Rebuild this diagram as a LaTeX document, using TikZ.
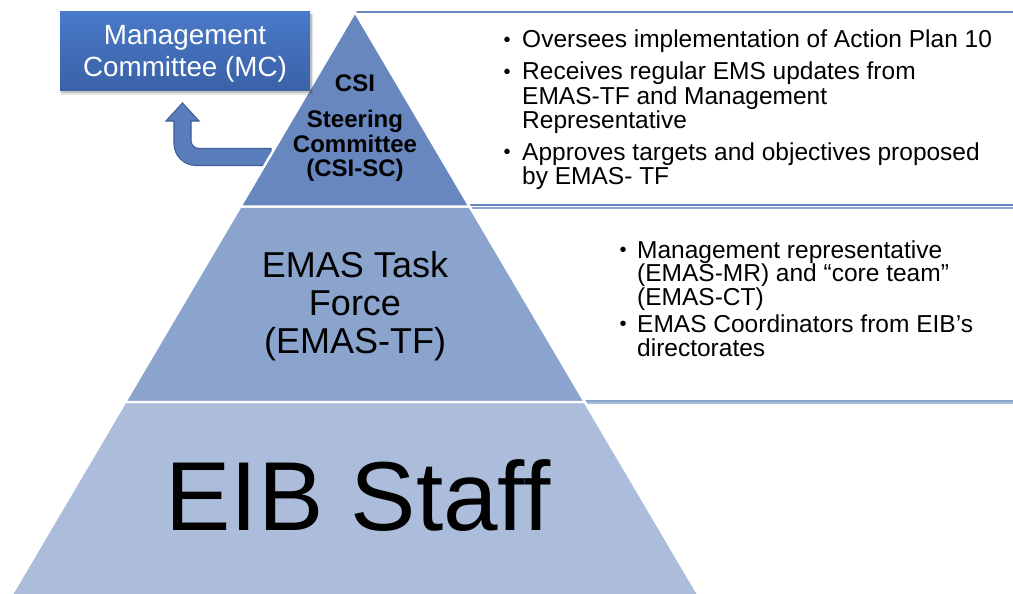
\documentclass[tikz,border=0pt]{standalone}
\usepackage{fontspec}
\setmainfont{Liberation Sans}
\definecolor{tierA}{HTML}{6887BF}
\definecolor{tierB}{HTML}{8AA4CE}
\definecolor{tierC}{HTML}{ABBDDB}
\definecolor{arrowfill}{HTML}{5A7DBC}
\definecolor{arrowline}{HTML}{3E5E98}
\definecolor{mctop}{HTML}{4A79C9}
\definecolor{mcbot}{HTML}{3A62A6}
\begin{document}
\begin{tikzpicture}[x=1pt,y=-1pt,
  tier/.style={draw=white, line width=2.4pt},
  panelline/.style={line width=2pt},
  mct/.style={anchor=base, inner sep=0pt, text=white, font=\fontsize{27.8}{30}\selectfont},
  csit/.style={anchor=base, inner sep=0pt, font=\fontsize{24}{26}\selectfont\bfseries},
  tft/.style={anchor=base, inner sep=0pt, font=\fontsize{36}{38}\selectfont},
  bl/.style={anchor=base west, inner sep=0pt, font=\fontsize{24.5}{25}\selectfont},
  bul/.style={anchor=base, inner sep=0pt, font=\fontsize{20}{21}\selectfont}]
\useasboundingbox (0,0) rectangle (1013,594);
\fill[white] (0,0) rectangle (1013,594);

% panel lines
\draw[panelline, tierA, line width=2.5pt] (355,12) -- (1013,12);
\draw[panelline, tierA] (469,205.3) -- (1013,205.3);
\draw[panelline, tierB] (470,207.5) -- (1013,207.5);
\draw[panelline, tierB] (584,401) -- (1013,401);
\draw[panelline, tierC] (586,403.3) -- (1013,403.3);

% U-turn arrow
\filldraw[fill=arrowfill, draw=arrowline, line width=1.1pt]
  (191,121) -- (191,140.5) .. controls (191,144.9) and (194.6,148.5) .. (199,148.5)
  -- (271,148.5) -- (271,165.5) -- (196,165.5)
  .. controls (183.9,165.5) and (174,155.6) .. (174,143.5)
  -- (174,121) -- (166,121) -- (182.5,103) -- (199,121) -- cycle;

% pyramid
\filldraw[tier, fill=tierC] (125.2,402) -- (584.8,402) -- (701.5,600) -- (8.5,600) -- cycle;
\filldraw[tier, fill=tierB] (240.4,206.5) -- (469.6,206.5) -- (584.8,402) -- (125.2,402) -- cycle;
\filldraw[tier, fill=tierA] (355,12) -- (469.6,206.5) -- (240.4,206.5) -- cycle;

% management committee box
\fill[black, opacity=0.10] (61,14) rectangle (313,95.5);
\fill[black, opacity=0.15] (61,14) rectangle (311.5,93.5);
\node (mc) [minimum width=250pt, minimum height=79pt, inner sep=0pt,
  top color=mctop, bottom color=mcbot, draw=none] at (185,51.5) {};
\node[mct] (mc1) at (185,45) {Management};
\node[mct] (mc2) at (185,77) {Committee (MC)};

% tier texts
\node[csit] (c1) at (355,91.5) {CSI};
\node[csit] (c2) at (355,128) {Steering};
\node[csit] (c3) at (355,153) {Committee};
\node[csit] (c4) at (355,176) {(CSI-SC)};

\node[tft] (t1) at (355,277.3) {EMAS Task};
\node[tft] (t2) at (355,315) {Force};
\node[tft] (t3) at (355,353.5) {(EMAS-TF)};

\node[anchor=base, inner sep=0pt, font=\fontsize{98}{100}\selectfont] (staff) at (358,530) {EIB Staff};

% top panel bullets
\node[bul] (b1) at (507,46.5) {•};
\node[bul] (b2) at (507,78) {•};
\node[bul] (b3) at (507,158.5) {•};
\node[bl] (l1) at (522,48) {Oversees implementation of Action Plan 10};
\node[bl] (l2) at (522,79.5) {Receives regular EMS updates from};
\node[bl] (l3) at (522,104) {EMAS-TF and Management};
\node[bl] (l4) at (522,128.5) {Representative};
\node[bl] (l5) at (522,160) {Approves targets and objectives proposed};
\node[bl] (l6) at (522,184.5) {by EMAS- TF};

% middle panel bullets
\node[bul] (b4) at (623,256.5) {•};
\node[bul] (b5) at (623,330.5) {•};
\node[bl] (m1) at (637,258) {Management representative};
\node[bl] (m2) at (637,281.5) {(EMAS-MR) and “core team”};
\node[bl] (m3) at (637,305) {(EMAS-CT)};
\node[bl] (m4) at (637,332) {EMAS Coordinators from EIB’s};
\node[bl] (m5) at (637,356) {directorates};
\end{tikzpicture}
\end{document}
